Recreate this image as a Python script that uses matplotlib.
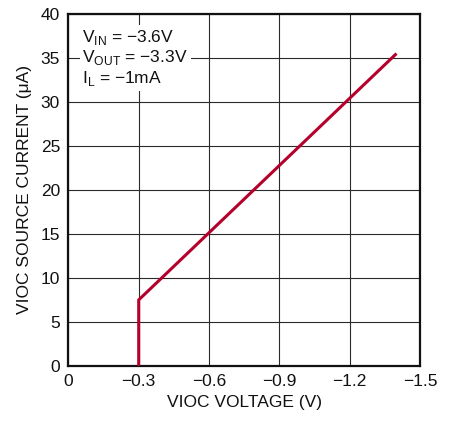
import matplotlib
matplotlib.use("Agg")
import matplotlib.pyplot as plt
from matplotlib import font_manager

names = {f.name for f in font_manager.fontManager.ttflist}
fam = "Liberation Sans Narrow" if "Liberation Sans Narrow" in names else "Liberation Sans"
plt.rcParams['font.family'] = [fam, 'DejaVu Sans']

# data
vioc_voltage = [-0.3, -0.3, -1.4]
vioc_current = [0.0, 7.5, 35.5]
x_ticks = [0, -0.3, -0.6, -0.9, -1.2, -1.5]
x_tick_labels = ['0', '\u22120.3', '\u22120.6', '\u22120.9', '\u22121.2', '\u22121.5']
y_ticks = [0, 5, 10, 15, 20, 25, 30, 35, 40]

fig = plt.figure(figsize=(4.53, 4.23), dpi=100)
ax = fig.add_axes([0.151, 0.135, 0.776, 0.832])

ax.plot(vioc_voltage, vioc_current, color='#B5002B', lw=2.2, solid_capstyle='butt', zorder=3)
ax.set_xlim(0, -1.5)
ax.set_ylim(0, 40)
ax.set_xticks(x_ticks)
ax.set_xticklabels(x_tick_labels)
ax.set_yticks(y_ticks)
ax.grid(True, color='#2a2a2a', lw=0.8)
ax.set_axisbelow(True)
for s in ax.spines.values():
    s.set_linewidth(1.6)
    s.set_color('#111111')
ax.tick_params(length=0, labelsize=12.5, pad=6, colors='#111111')
ax.set_xlabel('VIOC VOLTAGE (V)', fontsize=12.5, color='#111111', labelpad=4)
ax.set_ylabel('VIOC SOURCE CURRENT (\u03bcA)', fontsize=12.5, color='#111111', labelpad=6)

txt = ('V$_{\\mathregular{IN}}$ = \u22123.6V\n'
       'V$_{\\mathregular{OUT}}$ = \u22123.3V\n'
       'I$_{\\mathregular{L}}$ = \u22121mA')
ax.text(-0.06, 38.4, txt, fontsize=12.5, va='top', ha='left', color='#111111',
        linespacing=1.1,
        bbox=dict(facecolor='white', edgecolor='none', pad=2), zorder=2)

fig.savefig('out.png', dpi=100)
